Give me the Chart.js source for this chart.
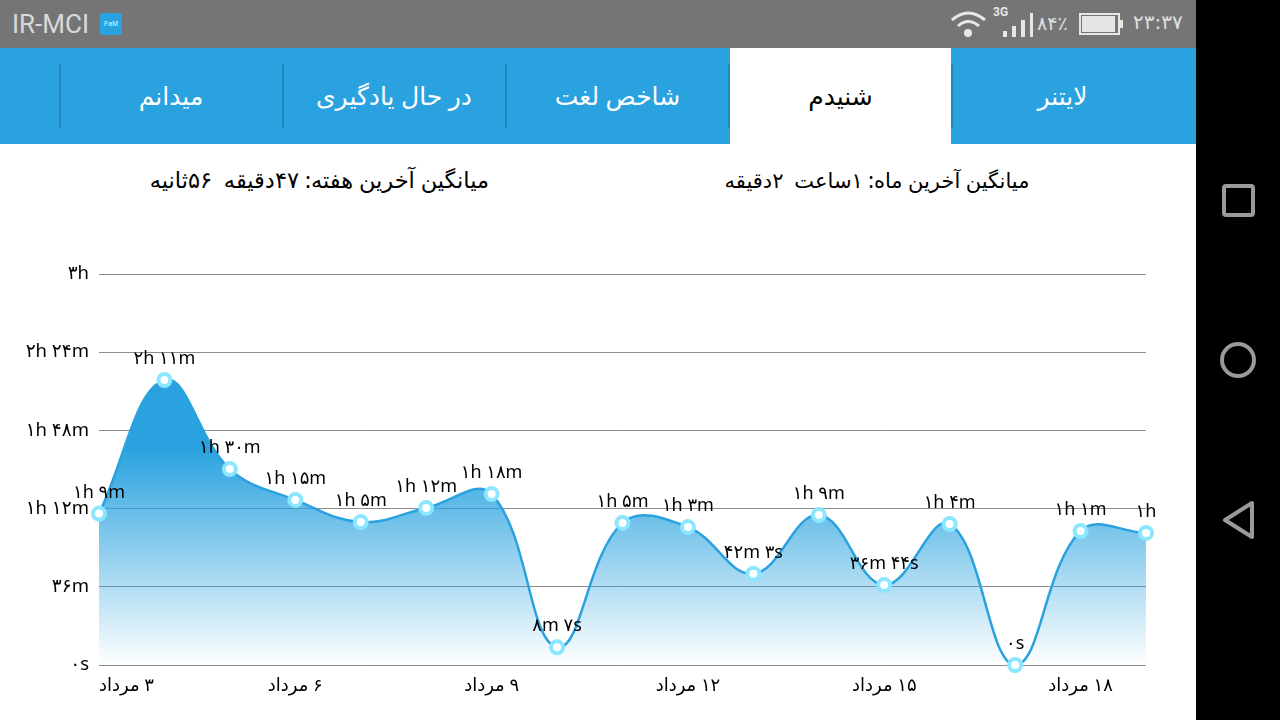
<!DOCTYPE html>
<html><head><meta charset="utf-8">
<style>
html,body{margin:0;padding:0;background:#fff;width:1280px;height:720px;overflow:hidden;font-family:"Noto Sans","DejaVu Sans",sans-serif}
#status{position:absolute;left:0;top:0;width:1196px;height:48px;background:#757575;color:#d9d9d9}
#nav{position:absolute;left:1196px;top:0;width:84px;height:720px;background:#000}
#tabs{position:absolute;left:0;top:48px;width:1196px;height:96px;background:#29a2df}
.tab{position:absolute;top:0;height:96px;line-height:94px;text-align:center;font-size:25px;color:#fff;direction:rtl}
.sep{position:absolute;top:16px;width:2px;height:64px;background:#2188bd}
.avg{position:absolute;top:165px;color:#000;direction:rtl;white-space:pre;line-height:30px}
canvas{position:absolute;left:0;top:144px}
</style>
<script src="https://cdn.jsdelivr.net/npm/chart.js@4"></script>
</head><body>
<div id="status">
<div style="position:absolute;left:12px;top:8px;font:400 26px/32px Roboto">IR-MCI</div>
<div style="position:absolute;left:100px;top:13px;width:22px;height:22px;border-radius:3px;background:#29a2df;color:#dff;font:7px/22px sans-serif;text-align:center">FaM</div>
<svg style="position:absolute;left:948px;top:8px" width="150" height="32" viewBox="0 0 150 32">
<g fill="none" stroke="#e6e6e6" stroke-width="3"><path d="M4 12 Q20 -2 37 12"/><path d="M10 18 Q20 9 31 18"/></g>
<circle cx="20" cy="25" r="4" fill="#e6e6e6"/>
<g fill="#e6e6e6"><rect x="55" y="23" width="4" height="6"/><rect x="64" y="18" width="4" height="11"/><rect x="73" y="12" width="4" height="17"/><rect x="82" y="5" width="3" height="24"/></g>
</svg>
<div style="position:absolute;left:993px;top:5px;font:bold 12px/14px Roboto;color:#e6e6e6">3G</div>
<div style="position:absolute;left:1037px;top:10px;font:19px/26px 'DejaVu Sans';color:#e0e0e0">۸۴٪</div>
<svg style="position:absolute;left:1078px;top:12px" width="48" height="24" viewBox="0 0 48 24">
<rect x="2" y="2" width="39" height="20" fill="none" stroke="#e6e6e6" stroke-width="2"/><rect x="4" y="4" width="33" height="16" fill="#e6e6e6"/><rect x="42" y="8" width="3" height="8" fill="#e6e6e6"/></svg>
<div style="position:absolute;left:1133px;top:8px;font:20px/28px 'DejaVu Sans';color:#e0e0e0">۲۳:۳۷</div>
</div>
<div id="tabs">
<div class="tab" style="left:60px;width:222px">میدانم</div>
<div class="tab" style="left:283px;width:222px">در حال یادگیری</div>
<div class="tab" style="left:506px;width:223px">شاخص لغت</div>
<div class="tab" style="left:730px;width:221px;background:#fff;color:#000">شنیدم</div>
<div class="tab" style="left:952px;width:221px">لایتنر</div>
<div class="sep" style="left:59px"></div><div class="sep" style="left:282px"></div><div class="sep" style="left:505px"></div><div class="sep" style="left:728px"></div><div class="sep" style="left:951px"></div>
</div>
<div class="avg" style="left:150px;width:339px;text-align:center;font-size:22.5px">میانگین آخرین هفته: ۴۷دقیقه  ۵۶ثانیه</div>
<div class="avg" style="left:724px;width:306px;text-align:center;font-size:21px">میانگین آخرین ماه: ۱ساعت  ۲دقیقه</div>
<div id="nav"><svg width="84" height="720" fill="none" stroke="#9a9a9a" stroke-width="4">
<rect x="28" y="186" width="29" height="29" rx="2"/><circle cx="42" cy="360" r="16"/><path d="M56 503 L56 537 L29 520 Z" stroke-linejoin="round"/></svg></div>
<canvas id="c" width="1196" height="576"></canvas>
<script>
const categories=['۳ مرداد','','','۶ مرداد','','','۹ مرداد','','','۱۲ مرداد','','','۱۵ مرداد','','','۱۸ مرداد',''];
const minutes=[69.7,131.2,90.2,76,65.8,72.3,78.7,8.12,65.4,63.5,42.05,69,36.8,64.9,0,61.7,60.8];
const pointLabels=['۱h ۹m','۲h ۱۱m','۱h ۳۰m','۱h ۱۵m','۱h ۵m','۱h ۱۲m','۱h ۱۸m','۸m ۷s','۱h ۵m','۱h ۳m','۴۲m ۳s','۱h ۹m','۳۶m ۴۴s','۱h ۴m','۰s','۱h ۱m','۱h'];
const yTickValues=[0,36,72,108,144,180];
const yTickLabels=['۰s','۳۶m','۱h ۱۲m','۱h ۴۸m','۲h ۲۴m','۳h'];
const FONT='"Noto Sans","DejaVu Sans",sans-serif';
const valueLabels={id:'valueLabels',afterDatasetsDraw(chart){
  const ctx=chart.ctx,pts=chart.getDatasetMeta(0).data;
  ctx.save();ctx.font='18px '+FONT;ctx.fillStyle='#000';ctx.textAlign='center';ctx.textBaseline='middle';
  pts.forEach((p,i)=>ctx.fillText(pointLabels[i],p.x,p.y-21));
  ctx.restore();
}};
new Chart(document.getElementById('c'),{
 type:'line',
 data:{labels:categories.map(s=>s?'\u200f'+s:s),datasets:[{
  data:minutes,tension:0.4,clip:false,fill:'origin',
  borderColor:'#29a2df',borderWidth:2.5,
  backgroundColor(c){const a=c.chart.chartArea;if(!a)return 'rgba(41,162,223,0.8)';
    const y=c.chart.scales.y;
    const g=c.chart.ctx.createLinearGradient(0,y.getPixelForValue(100),0,y.getPixelForValue(0));
    g.addColorStop(0,'rgba(41,162,223,1)');g.addColorStop(1,'rgba(41,162,223,0)');return g;},
  pointRadius:6,pointBorderWidth:4,pointBackgroundColor:'#fff',pointBorderColor:'#8be6ff'
 }]},
 plugins:[valueLabels],
 options:{responsive:false,animation:false,devicePixelRatio:1,
  layout:{padding:{top:130,right:50,left:0,bottom:0}},
  plugins:{legend:{display:false},tooltip:{enabled:false}},
  scales:{
   x:{offset:false,afterFit(s){s.height=55;},grid:{display:false},border:{display:false},
      ticks:{autoSkip:false,maxRotation:0,minRotation:0,align:'inner',padding:2,color:'#000',font:{size:18,family:FONT},
      }},
   y:{min:0,max:180,afterFit(s){s.width=99;},
      afterBuildTicks(s){s.ticks=yTickValues.map(v=>({value:v}));},
      grid:{color:'#8c8c8c',lineWidth:1,drawTicks:false},border:{display:false},
      ticks:{padding:10,color:'#000',font:{size:18.5,family:FONT},
        callback(v){return yTickLabels[yTickValues.indexOf(v)];}}}
  }}
});
</script>
</body></html>
